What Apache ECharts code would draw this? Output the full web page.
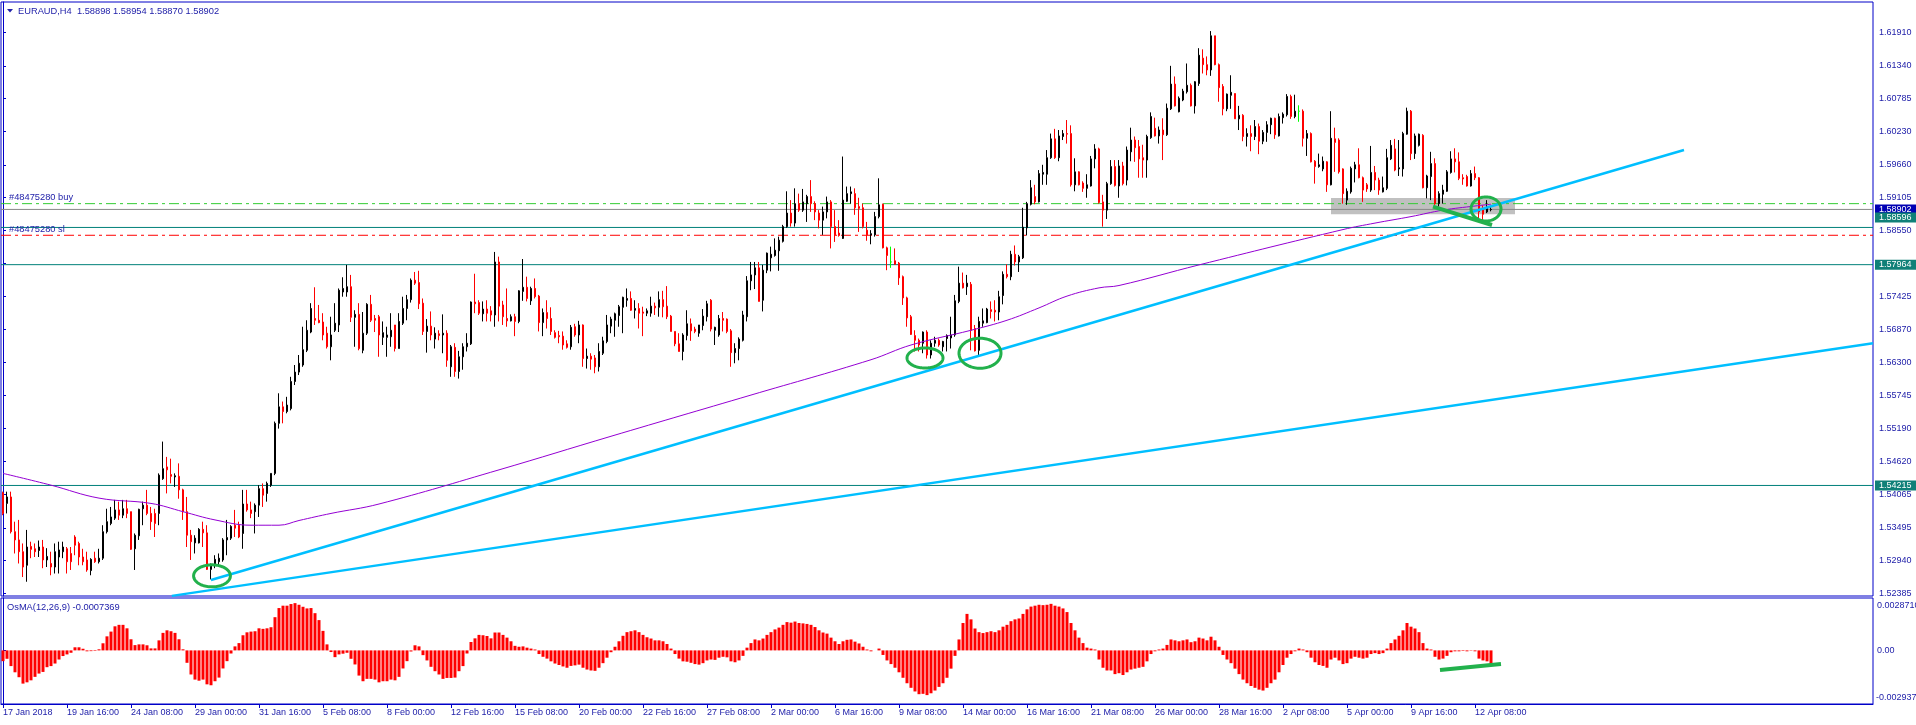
<!DOCTYPE html>
<html><head><meta charset="utf-8">
<script src="https://cdn.jsdelivr.net/npm/echarts@6/dist/echarts.min.js"></script>
<style>html,body{margin:0;padding:0;background:#fff;overflow:hidden}#c{width:1916px;height:725px}</style>
</head><body><div id="c"></div>
<script>
// ---------- DATA (prices in units of 0.0001) ----------
const PRICE_UNIT = 10000;
const OSMA_UNIT = 100000;
const opens = [
15409,15391,15402,15343,15329,15309,15286,15318,15314,15311,
15317,15295,15289,15283,15300,15309,15314,15306,15334,15323,
15300,15295,15277,15298,15292,15298,15343,15357,15366,15380,
15371,15382,15377,15314,15336,15382,15388,15374,15374,15374,
15433,15453,15440,15436,15437,15414,15377,15337,15324,15324,
15347,15341,15279,15286,15292,15295,15329,15332,15354,15354,
15340,15390,15380,15377,15388,15416,15408,15422,15442,15527,
15555,15547,15552,15598,15614,15626,15651,15682,15705,15702,
15699,15680,15657,15685,15694,15750,15750,15759,15707,15712,
15651,15680,15729,15705,15708,15673,15673,15674,15694,15654,
15697,15722,15737,15770,15766,15731,15683,15692,15670,15679,
15677,15680,15623,15656,15615,15640,15657,15662,15733,15732,
15713,15721,15718,15711,15801,15728,15705,15701,15708,15700,
15751,15758,15735,15756,15743,15698,15715,15705,15681,15676,
15675,15662,15657,15691,15677,15694,15637,15641,15638,15623,
15646,15666,15692,15702,15710,15724,15736,15739,15719,15722,
15716,15714,15714,15726,15724,15737,15726,15709,15683,15662,
15649,15676,15696,15687,15680,15693,15708,15736,15685,15677,
15705,15704,15684,15647,15654,15668,15708,15769,15779,15791,
15736,15787,15808,15812,15820,15836,15861,15884,15867,15900,
15889,15900,15912,15900,15884,15872,15886,15903,15861,15850,
15841,15904,15917,15917,15895,15893,15855,15847,15847,15878,
15899,15825,15801,15803,15799,15776,15740,15708,15676,15668,
15663,15682,15643,15663,15668,15657,15671,15672,15677,15734,
15765,15759,15763,15688,15651,15697,15698,15720,15719,15716,
15744,15780,15776,15814,15801,15808,15859,15899,15912,15903,
15950,15950,15978,16010,15978,16014,16019,16019,15932,15954,
15935,15926,15930,15976,15993,15903,15889,15934,15963,15930,
15964,15940,15988,16008,15997,15978,15974,16012,16028,16015,
16025,16017,16061,16103,16056,16076,16090,16101,16066,16104,
16147,16136,16127,16185,16136,16099,16061,16084,16087,16044,
16050,16014,16019,16014,16031,16006,16021,16034,16045,16015,
16046,16051,16082,16048,16057,16057,16011,16019,15972,15963,
15959,15971,15932,16010,16008,15959,15906,15920,15959,15966,
15944,15932,15923,15953,15940,15920,15926,15976,15993,15959,
15959,16018,16057,15985,15999,16016,15927,15946,15968,15900,
15916,15921,15953,15976,15971,15944,15946,15930,15951,15944,
15890,15886,15889.8];
const highs = [
15411,15411,15411,15360,15363,15323,15346,15326,15323,15328,
15329,15315,15309,15323,15326,15326,15317,15317,15337,15326,
15314,15309,15298,15309,15314,15354,15382,15385,15397,15394,
15397,15397,15377,15340,15382,15394,15414,15385,15382,15442,
15496,15470,15467,15442,15459,15416,15402,15346,15337,15349,
15360,15354,15289,15303,15306,15332,15363,15354,15380,15360,
15414,15414,15394,15391,15422,15425,15428,15442,15530,15578,
15564,15572,15606,15626,15643,15691,15702,15731,15758,15728,
15714,15691,15708,15731,15756,15775,15796,15779,15719,15731,
15716,15731,15745,15711,15711,15700,15691,15714,15694,15714,
15742,15745,15773,15784,15786,15739,15704,15717,15690,15685,
15712,15685,15660,15663,15650,15663,15680,15734,15781,15736,
15734,15736,15726,15818,15810,15735,15756,15712,15713,15753,
15806,15776,15759,15773,15745,15722,15736,15724,15685,15684,
15683,15668,15694,15696,15701,15695,15654,15646,15643,15663,
15674,15711,15708,15715,15728,15742,15756,15751,15736,15731,
15725,15722,15742,15732,15751,15752,15760,15711,15683,15680,
15680,15719,15705,15691,15694,15721,15735,15738,15691,15711,
15716,15705,15687,15663,15673,15718,15777,15801,15801,15801,
15796,15817,15827,15841,15844,15864,15921,15906,15926,15917,
15925,15915,15940,15904,15889,15895,15912,15906,15889,15872,
15980,15929,15929,15926,15910,15900,15869,15855,15886,15943,
15900,15827,15827,15824,15801,15778,15742,15711,15685,15671,
15683,15685,15668,15674,15671,15667,15678,15708,15745,15793,
15783,15779,15767,15694,15708,15722,15723,15734,15736,15752,
15785,15797,15820,15829,15813,15893,15903,15940,15932,15957,
15966,15991,16019,16027,16025,16025,16042,16033,15977,15955,
15938,15950,15981,16001,15995,15915,15937,15974,15974,15974,
15971,15997,16029,16014,16008,16000,16017,16055,16046,16031,
16045,16070,16134,16116,16082,16095,16138,16104,16108,16164,
16162,16150,16193,16185,16138,16103,16087,16118,16087,16066,
16052,16028,16033,16042,16036,16025,16040,16046,16046,16053,
16055,16086,16085,16085,16067,16060,16025,16021,15974,15985,
15980,15972,16057,16029,16011,15960,15926,15963,15971,15994,
15946,15935,15998,15964,15944,15946,15993,16008,16010,16008,
16022,16063,16059,16019,16019,16018,15949,15988,15977,15921,
15932,15957,15989,15994,15987,15950,15949,15957,15963,15945,
15897,15906,15895.4];
const lows = [
15371,15374,15340,15306,15289,15266,15258,15298,15300,15300,
15281,15283,15269,15272,15272,15298,15272,15278,15303,15286,
15286,15275,15269,15290,15289,15295,15340,15354,15363,15363,
15366,15366,15312,15278,15329,15354,15371,15346,15334,15354,
15431,15408,15425,15419,15399,15363,15317,15295,15306,15323,
15317,15278,15262,15281,15283,15292,15303,15329,15334,15332,
15314,15377,15366,15340,15368,15385,15394,15419,15439,15518,
15527,15544,15549,15592,15609,15623,15648,15680,15694,15697,
15668,15654,15634,15682,15682,15742,15742,15699,15657,15651,
15646,15677,15699,15682,15640,15660,15640,15657,15649,15654,
15694,15702,15732,15762,15721,15677,15647,15668,15654,15668,
15646,15623,15606,15606,15603,15618,15649,15660,15714,15711,
15700,15700,15700,15691,15700,15694,15691,15700,15675,15697,
15735,15734,15728,15739,15683,15675,15688,15677,15671,15663,
15652,15654,15652,15674,15663,15623,15620,15618,15612,15615,
15643,15663,15680,15674,15691,15680,15725,15718,15705,15688,
15675,15709,15708,15711,15708,15707,15704,15683,15658,15649,
15634,15668,15667,15680,15674,15685,15700,15683,15660,15674,
15683,15680,15623,15629,15634,15666,15700,15753,15755,15734,
15717,15782,15785,15810,15786,15834,15859,15861,15861,15886,
15886,15869,15886,15872,15858,15847,15875,15824,15835,15844,
15840,15903,15900,15881,15852,15858,15837,15831,15844,15875,
15824,15787,15791,15796,15762,15728,15691,15677,15649,15649,
15646,15637,15637,15657,15657,15649,15649,15654,15674,15731,
15756,15745,15651,15649,15640,15691,15697,15705,15700,15702,
15729,15773,15770,15795,15784,15806,15846,15897,15899,15902,
15932,15932,15976,15976,15972,16008,16002,15929,15921,15931,
15920,15910,15929,15960,15900,15861,15874,15932,15929,15910,
15931,15931,15972,15971,15944,15944,15944,16010,16014,16002,
15974,16015,16059,16065,16055,16074,16087,16065,16053,16100,
16121,16118,16117,16135,16073,16050,16057,16061,16044,16025,
16006,15997,15989,16008,15984,16001,16005,16018,16010,16014,
16036,16048,16044,16045,16039,15997,15981,15970,15934,15961,
15955,15920,15931,15954,15951,15900,15898,15917,15936,15943,
15903,15920,15920,15923,15915,15919,15923,15974,15955,15947,
15946,16017,15974,15976,15997,15926,15909,15906,15898,15895,
15900,15920,15951,15953,15940,15932,15929,15929,15940,15874,
15870,15884,15887.0];
const closes = [
15374,15402,15343,15329,15309,15283,15317,15313,15309,15317,
15295,15301,15283,15309,15312,15317,15292,15292,15320,15300,
15292,15278,15296,15292,15298,15343,15360,15368,15380,15371,
15382,15374,15313,15337,15381,15388,15374,15360,15357,15439,
15450,15448,15437,15438,15414,15377,15337,15326,15332,15347,
15341,15279,15286,15296,15298,15329,15333,15352,15349,15334,
15390,15380,15374,15388,15416,15405,15425,15442,15527,15555,
15547,15558,15598,15614,15629,15652,15685,15722,15702,15698,
15677,15657,15677,15697,15753,15756,15759,15707,15712,15654,
15680,15729,15702,15702,15677,15681,15677,15685,15654,15700,
15722,15737,15770,15765,15730,15683,15692,15677,15680,15676,
15680,15634,15657,15615,15640,15657,15663,15733,15730,15714,
15721,15714,15711,15801,15726,15708,15701,15708,15700,15752,
15758,15739,15756,15742,15698,15715,15705,15683,15673,15674,
15660,15656,15690,15677,15694,15637,15641,15636,15623,15649,
15667,15694,15704,15713,15725,15741,15739,15719,15722,15714,
15714,15718,15726,15723,15737,15725,15708,15683,15662,15649,
15677,15696,15684,15683,15694,15709,15730,15687,15690,15705,
15702,15683,15647,15654,15670,15711,15769,15779,15791,15734,
15787,15816,15814,15821,15838,15861,15884,15867,15900,15889,
15903,15912,15900,15886,15872,15886,15903,15861,15847,15846,
15906,15917,15920,15893,15892,15861,15847,15849,15878,15898,
15825,15812,15801,15797,15774,15740,15706,15678,15668,15660,
15682,15643,15663,15668,15660,15666,15676,15677,15735,15765,
15757,15765,15685,15650,15700,15701,15721,15717,15716,15742,
15780,15776,15814,15801,15810,15860,15900,15927,15903,15951,
15953,15978,16010,15978,16015,16019,16018,15932,15954,15932,
15926,15932,15976,15993,15902,15889,15934,15963,15931,15964,
15934,15991,16008,15995,15976,15974,16014,16048,16015,16025,
16017,16062,16103,16066,16079,16091,16101,16066,16107,16152,
16136,16127,16185,16136,16097,16061,16086,16089,16044,16050,
16014,16019,16014,16031,16006,16021,16034,16045,16017,16048,
16052,16082,16048,16057,16057,16011,16019,15971,15963,15966,
15972,15932,16011,16004,15954,15917,15921,15960,15966,15944,
15923,15925,15953,15940,15923,15927,15978,15999,15957,15961,
16019,16057,15985,16015,16018,15927,15947,15968,15900,15917,
15923,15954,15976,15971,15943,15942,15930,15951,15944,15886,
15882,15893,15890.2];
// OsMA(12,26,9) histogram, units of 0.00001
const osma = [
-59,-46,-86,-120,-147,-182,-175,-164,-145,-127,
-118,-92,-86,-72,-50,-31,-22,-13,17,17,
9,-5,-4,-3,6,39,77,103,132,140,
140,121,61,29,33,33,28,11,11,55,
96,110,105,96,61,6,-68,-132,-160,-166,
-160,-186,-191,-169,-149,-99,-59,-17,22,40,
83,99,103,105,121,118,121,127,182,232,
245,245,254,259,250,239,230,232,204,166,
107,33,-9,-37,-22,-18,-13,-46,-77,-138,
-169,-156,-156,-160,-175,-169,-169,-160,-164,-145,
-99,-59,-6,28,22,-26,-55,-90,-114,-132,
-156,-151,-151,-149,-114,-86,-17,46,66,85,
83,79,66,98,98,85,70,50,25,20,
22,15,10,5,-20,-35,-45,-60,-72,-80,
-88,-95,-85,-82,-78,-95,-105,-110,-112,-95,
-70,-40,-10,20,50,80,100,105,110,100,
85,72,65,55,55,50,35,10,-20,-45,
-60,-62,-68,-75,-78,-70,-55,-50,-52,-40,
-35,-38,-60,-65,-55,-30,15,40,60,55,
65,85,100,115,125,140,155,152,158,150,
148,145,140,128,110,98,92,70,50,35,
50,58,60,48,38,20,5,-5,0,10,
-25,-55,-75,-95,-120,-150,-180,-205,-225,-240,
-238,-245,-235,-220,-200,-180,-150,-100,-30,60,
150,200,170,120,100,95,100,105,100,110,
130,140,160,170,175,200,225,240,245,250,
248,250,255,245,240,230,210,150,110,70,
40,15,10,5,-50,-95,-110,-110,-130,-125,
-135,-120,-105,-100,-95,-90,-60,-20,-5,5,
10,30,60,55,50,55,60,45,50,70,
65,55,75,55,20,-25,-50,-70,-100,-130,
-160,-180,-195,-205,-215,-220,-205,-180,-160,-120,
-80,-40,-20,-5,10,5,-10,-40,-65,-80,
-85,-95,-50,-40,-55,-75,-70,-45,-35,-40,
-45,-40,-20,-15,-20,-15,10,40,60,80,
110,150,130,120,100,40,10,5,-35,-50,
-45,-30,-10,-5,-5,-3,-5,-2,-5,-45,
-55,-60,-73.69];
// Moving average (purple) read at sample bars: [bar index, price*1e4]
const maPoints = [[0,15442],[12,15422],[24,15400],[37,15391],[45,15377],[53,15363],[62,15354],[69,15354],[74,15362],[82,15374],[94,15390],[124,15448],[152,15505],[187,15575],[217,15635],[227,15660],[242,15685],[251,15702],[259,15723],[266,15743],[274,15757],[279,15761],[299,15796],[335,15856],[343,15867],[352,15878],[360,15889],[368,15896],[372,15899]];
// Trend lines: [[bar, price],[bar, price]]
const trendUpper = [[52,1.5261],[420.25,1.5991]];
const trendLower = [[42.2,1.5234],[467.5,1.5663]];
const greenPriceLine = [[357.5,1.58948],[372.25,1.58637]];
const greenOsmaLine = [[359.25,-0.00107],[374.5,-0.00075]];
// Ellipses: [bar, price, half-width in bars, half-height in price]
const ellipses = [[52.25,1.5268,4.6,0.00187],[230.5,1.5638,4.5,0.0017],[244.25,1.5646,5.25,0.00255],[370.75,1.5891,3.75,0.00204]];
// Grey zone rectangle: [bar1, price1, bar2, price2]
const zoneRect = [332,1.59096,378,1.5882];
// Horizontal levels
const buyLevel = 1.5900, slLevel = 1.58463, bidLevel = 1.58902;
const hLevels = [1.58596, 1.57964, 1.54215];
const xTickLabels = ["17 Jan 2018","19 Jan 16:00","24 Jan 08:00","29 Jan 00:00","31 Jan 16:00","5 Feb 08:00","8 Feb 00:00","12 Feb 16:00","15 Feb 08:00","20 Feb 00:00","22 Feb 16:00","27 Feb 08:00","2 Mar 00:00","6 Mar 16:00","9 Mar 08:00","14 Mar 00:00","16 Mar 16:00","21 Mar 08:00","26 Mar 00:00","28 Mar 16:00","2 Apr 08:00","5 Apr 00:00","9 Apr 16:00","12 Apr 08:00"];
const xTickEvery = 16;
const yTickLabels = ["1.52385","1.52940","1.53495","1.54065","1.54620","1.55190","1.55745","1.56300","1.56870","1.57425","1.57980","1.58550","1.59105","1.59660","1.60230","1.60785","1.61340","1.61910"];
const osmaMax = 0.0028710, osmaMin = -0.0029372;
const titleText = "EURAUD,H4  1.58898 1.58954 1.58870 1.58902";
const osmaTitle = "OsMA(12,26,9) -0.0007369";

// ---------- STYLE ----------
const SLOTS = 468;
const X0 = -0.5, X1 = SLOTS - 0.5;
const FRAME = '#0000C8', TXT = '#2222AA', FONT = '"Liberation Sans", Arial, sans-serif';
const cats = Array.from({length: SLOTS}, (_, i) => (i % xTickEvery === 0 && xTickLabels[i / xTickEvery]) ? xTickLabels[i / xTickEvery] : '');
const showTick = (i) => cats[i] !== '';

const candleData = opens.map((o, i) => {
  const v = [o / PRICE_UNIT, closes[i] / PRICE_UNIT, lows[i] / PRICE_UNIT, highs[i] / PRICE_UNIT];
  if (o === closes[i]) return {value: v, itemStyle: {color: '#00FF00', color0: '#00FF00', borderColor: '#00FF00', borderColor0: '#00FF00'}};
  return v;
});

const levelSeries = (p, color, type, z) => ({
  type: 'line', xAxisIndex: 2, yAxisIndex: 0, data: [[X0, p], [X1, p]], showSymbol: false, silent: true, z: z,
  lineStyle: {color: color, width: 1, type: type}
});

const chart = echarts.init(document.getElementById('c'));
const option = {
  animation: false,
  backgroundColor: '#ffffff',
  grid: [
    {left: 1, top: 2, width: 1872, height: 594, show: true, borderColor: FRAME, borderWidth: 1, containLabel: false},
    {left: 1, top: 598, width: 1872, height: 106, show: true, borderColor: FRAME, borderWidth: 1, containLabel: false}
  ],
  xAxis: [
    {type: 'category', gridIndex: 0, data: cats, boundaryGap: true, axisLine: {show: false, onZero: false}, axisTick: {show: false}, axisLabel: {show: false}, splitLine: {show: false}},
    {type: 'category', gridIndex: 1, data: cats, boundaryGap: true,
     axisLine: {show: true, onZero: false, lineStyle: {color: FRAME, width: 1}},
     axisTick: {show: true, interval: showTick, alignWithLabel: true, length: 4, lineStyle: {color: FRAME}},
     axisLabel: {show: true, interval: showTick, align: 'left', margin: 4, color: TXT, fontSize: 9, fontFamily: FONT},
     splitLine: {show: false}},
    {type: 'value', gridIndex: 0, min: X0, max: X1, show: false},
    {type: 'value', gridIndex: 1, min: X0, max: X1, show: false}
  ],
  yAxis: [
    {type: 'value', gridIndex: 0, position: 'right', min: 1.52338, max: 1.62424, scale: true,
     splitLine: {show: false},
     axisLine: {show: true, lineStyle: {color: FRAME}},
     axisTick: {show: true, length: 3, customValues: yTickLabels.map(Number), lineStyle: {color: FRAME}},
     axisLabel: {show: true, customValues: yTickLabels.map(Number), formatter: v => v.toFixed(5), margin: 6, color: TXT, fontSize: 9, fontFamily: FONT}},
    {type: 'value', gridIndex: 1, position: 'right', min: osmaMin, max: osmaMax,
     splitLine: {show: false},
     axisLine: {show: true, lineStyle: {color: FRAME}},
     axisTick: {show: true, length: 3, customValues: [osmaMin, 0], lineStyle: {color: FRAME}},
     axisLabel: {show: true, customValues: [0], formatter: () => '0.00', margin: 4, color: TXT, fontSize: 9, fontFamily: FONT}}
  ],
  series: [
    {type: 'line', xAxisIndex: 2, yAxisIndex: 0, data: [], z: 1, silent: true,
     markArea: {silent: true, itemStyle: {color: '#C0C0C0'}, data: [[{coord: [zoneRect[0], zoneRect[1]]}, {coord: [zoneRect[2], zoneRect[3]]}]]}},
    levelSeries(buyLevel, '#33CC33', [10, 4, 3, 4], 2),
    levelSeries(bidLevel, '#888888', 'solid', 2),
    levelSeries(slLevel, '#FF0000', [10, 4, 3, 4], 2),
    ...hLevels.map(p => levelSeries(p, '#00807A', 'solid', 2)),
    {type: 'candlestick', xAxisIndex: 0, yAxisIndex: 0, data: candleData, barWidth: 2, z: 3,
     itemStyle: {color: '#000000', color0: '#FF0000', borderColor: '#000000', borderColor0: '#FF0000', borderWidth: 1}},
    {type: 'line', xAxisIndex: 2, yAxisIndex: 0, data: maPoints.map(p => [p[0], p[1] / PRICE_UNIT]), smooth: 0.4, showSymbol: false, z: 4, silent: true,
     lineStyle: {color: '#9400D3', width: 1}},
    {type: 'line', xAxisIndex: 2, yAxisIndex: 0, data: trendUpper, showSymbol: false, z: 5, silent: true, lineStyle: {color: '#00BFFF', width: 2.5}},
    {type: 'line', xAxisIndex: 2, yAxisIndex: 0, data: trendLower, showSymbol: false, z: 5, silent: true, lineStyle: {color: '#00BFFF', width: 2.5}},
    {type: 'line', xAxisIndex: 2, yAxisIndex: 0, data: greenPriceLine, showSymbol: false, z: 6, silent: true, lineStyle: {color: '#22B14C', width: 4}},
    {type: 'custom', xAxisIndex: 2, yAxisIndex: 0, data: ellipses, z: 6, silent: true,
     renderItem: (params, api) => {
       const cx = api.value(0), cy = api.value(1);
       const c = api.coord([cx, cy]);
       const e = api.coord([cx + api.value(2), cy + api.value(3)]);
       const rx = Math.abs(e[0] - c[0]), ry = Math.abs(e[1] - c[1]);
       const pts = [];
       for (let k = 0; k < 90; k++) { const a = k / 90 * 2 * Math.PI; pts.push([c[0] + rx * Math.cos(a), c[1] + ry * Math.sin(a)]); }
       return {type: 'polygon', shape: {points: pts}, style: {fill: 'none', stroke: '#22B14C', lineWidth: 3}};
     }},
    {type: 'bar', xAxisIndex: 1, yAxisIndex: 1, data: osma.map(v => v / OSMA_UNIT), barWidth: 3, z: 3, silent: true, itemStyle: {color: '#FF0000'}},
    {type: 'line', xAxisIndex: 3, yAxisIndex: 1, data: greenOsmaLine, showSymbol: false, z: 6, silent: true, lineStyle: {color: '#22B14C', width: 4}}
  ]
};
chart.setOption(option);

// ---------- text overlays ----------
const yOf = p => chart.convertToPixel({yAxisIndex: 0}, p);
const yOs = p => chart.convertToPixel({yAxisIndex: 1}, p);
const boxes = [
  {price: bidLevel, color: '#0000B4', shift: 0},
  {price: hLevels[0], color: '#108078', shift: -10},
  {price: hLevels[1], color: '#108078', shift: 0},
  {price: hLevels[2], color: '#108078', shift: 0}
];
const g = [];
g.push({type: 'polygon', shape: {points: [[7, 9], [13, 9], [10, 12.5]]}, style: {fill: TXT}, z: 100});
g.push({type: 'text', x: 18, y: 11, style: {text: titleText, fill: TXT, font: '9.3px ' + FONT, verticalAlign: 'middle'}, z: 100});
g.push({type: 'text', x: 7, y: 607, style: {text: osmaTitle, fill: TXT, font: '9.3px ' + FONT, verticalAlign: 'middle'}, z: 100});
g.push({type: 'text', x: 9, y: yOf(buyLevel) - 6, style: {text: '#48475280 buy', fill: TXT, font: '9.3px ' + FONT, verticalAlign: 'middle'}, z: 100});
g.push({type: 'text', x: 9, y: yOf(slLevel) - 6, style: {text: '#48475280 sl', fill: TXT, font: '9.3px ' + FONT, verticalAlign: 'middle'}, z: 100});
boxes.forEach(b => {
  const y = yOf(b.price) + b.shift;
  g.push({type: 'rect', shape: {x: 1875, y: y - 5, width: 45, height: 10}, style: {fill: b.color}, z: 100});
  g.push({type: 'text', x: 1879, y: y, style: {text: b.price.toFixed(5), fill: '#ffffff', font: '9px ' + FONT, verticalAlign: 'middle'}, z: 101});
});
g.push({type: 'text', x: 1877, y: yOs(osmaMax) + 8, style: {text: osmaMax.toFixed(7), fill: TXT, font: '9px ' + FONT, verticalAlign: 'middle'}, z: 100});
g.push({type: 'text', x: 1876, y: yOs(osmaMin) - 6, style: {text: osmaMin.toFixed(7), fill: TXT, font: '9px ' + FONT, verticalAlign: 'middle'}, z: 100});
chart.setOption({graphic: g});
</script>
</body></html>
